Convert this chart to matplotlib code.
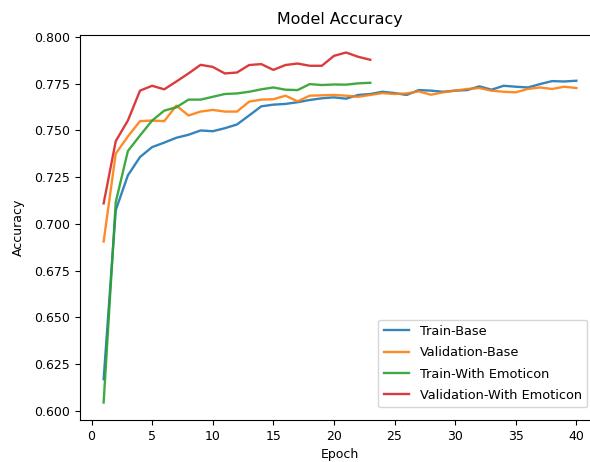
import matplotlib
matplotlib.use("Agg")
import matplotlib.pyplot as plt

epochs_base = list(range(1, 41))
epochs_emo = list(range(1, 24))

train_base = [0.617, 0.7074, 0.726, 0.7358, 0.7411, 0.7435, 0.7461, 0.7477, 0.750, 0.7496,
              0.7512, 0.7532, 0.758, 0.7629, 0.7638, 0.7642, 0.7651, 0.7663, 0.7672, 0.7677,
              0.767, 0.769, 0.7695, 0.7707, 0.770, 0.769, 0.7716, 0.7713, 0.7707, 0.7713,
              0.7716, 0.7736, 0.7718, 0.7739, 0.7734, 0.773, 0.7748, 0.7764, 0.7762, 0.7766]
val_base = [0.6906, 0.7376, 0.7468, 0.755, 0.7553, 0.755, 0.7633, 0.758, 0.7601, 0.761,
            0.7601, 0.7601, 0.7654, 0.7665, 0.7667, 0.7686, 0.7656, 0.7686, 0.7688, 0.769,
            0.7686, 0.768, 0.769, 0.770, 0.7695, 0.7698, 0.7709, 0.7691, 0.7704, 0.7713,
            0.7722, 0.7727, 0.7713, 0.7707, 0.7704, 0.7722, 0.773, 0.7722, 0.7734, 0.7727]
train_emo = [0.6045, 0.7117, 0.739, 0.7473, 0.7553, 0.7606, 0.7624, 0.7665, 0.7665, 0.768,
             0.7695, 0.7698, 0.7707, 0.772, 0.773, 0.7718, 0.7716, 0.7748, 0.7743, 0.7746,
             0.7745, 0.7752, 0.7755]
val_emo = [0.711, 0.7443, 0.7553, 0.7713, 0.7739, 0.772, 0.7762, 0.7805, 0.7851, 0.784,
           0.7805, 0.781, 0.785, 0.7855, 0.7824, 0.785, 0.7858, 0.7846, 0.7846, 0.7899,
           0.7917, 0.7894, 0.7878]

labels = ["Train-Base", "Validation-Base", "Train-With Emoticon", "Validation-With Emoticon"]

fs = 9.0
fig = plt.figure(figsize=(5.9, 4.62), dpi=100)
ax = fig.add_axes([80 / 590, 42 / 462, 520 / 590, 385 / 462])

ax.plot(epochs_base, train_base, label=labels[0], lw=1.7, alpha=0.9)
ax.plot(epochs_base, val_base, label=labels[1], lw=1.7, alpha=0.9)
ax.plot(epochs_emo, train_emo, label=labels[2], lw=1.7, alpha=0.9)
ax.plot(epochs_emo, val_emo, label=labels[3], lw=1.7, alpha=0.9)

ax.spines["right"].set_visible(False)
ax.set_xticks([0, 5, 10, 15, 20, 25, 30, 35, 40])
ax.tick_params(labelsize=fs)
ax.set_title("Model Accuracy", fontsize=11.4, pad=8)
ax.set_xlabel("Epoch", fontsize=fs, labelpad=4)
ax.set_ylabel("Accuracy", fontsize=fs, labelpad=7)
ax.legend(loc="lower right", fontsize=9.3, borderaxespad=1.0, labelspacing=0.65)

fig.savefig("out.png", dpi=100)
